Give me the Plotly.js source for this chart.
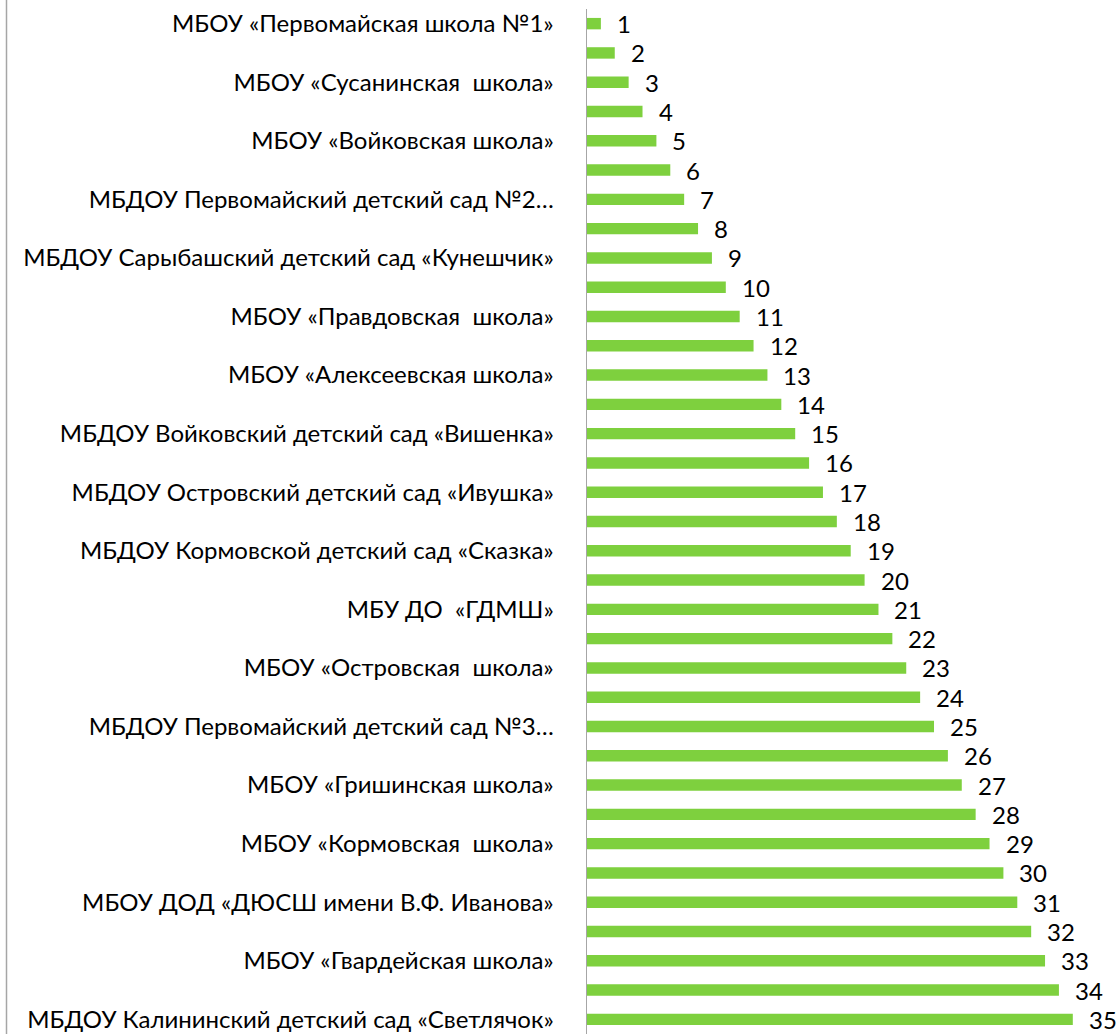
<!DOCTYPE html>
<html>
<head>
<meta charset="utf-8">
<script src="https://cdn.plot.ly/plotly-3.0.1.min.js"></script>
<style>html,body{margin:0;padding:0;background:#fff;}#chart{width:1120px;height:1034px;}</style>
</head>
<body>
<div id="chart"></div>
<script>
// Category labels (only every other label is shown in the reference; hidden ones left blank)
const categories = [
  "МБОУ «Первомайская школа №1»", "",
  "МБОУ «Сусанинская\u00A0 школа»", "",
  "МБОУ «Войковская школа»", "",
  "МБДОУ Первомайский детский сад №2…", "",
  "МБДОУ Сарыбашский детский сад «Кунешчик»", "",
  "МБОУ «Правдовская\u00A0 школа»", "",
  "МБОУ «Алексеевская школа»", "",
  "МБДОУ Войковский детский сад «Вишенка»", "",
  "МБДОУ Островский детский сад «Ивушка»", "",
  "МБДОУ Кормовской детский сад «Сказка»", "",
  "МБУ ДО\u00A0 «ГДМШ»", "",
  "МБОУ «Островская\u00A0 школа»", "",
  "МБДОУ Первомайский детский сад №3…", "",
  "МБОУ «Гришинская школа»", "",
  "МБОУ «Кормовская\u00A0 школа»", "",
  "МБОУ ДОД «ДЮСШ имени В.Ф. Иванова»", "",
  "МБОУ «Гвардейская школа»", "",
  "МБДОУ Калининский детский сад «Светлячок»"
];
const values = [1,2,3,4,5,6,7,8,9,10,11,12,13,14,15,16,17,18,19,20,21,22,23,24,25,26,27,28,29,30,31,32,33,34,35];

const positions = categories.map((c, i) => i + 1);
const tickvals = positions.filter((p, i) => categories[i] !== "");
const ticktext = categories.filter(c => c !== "");

const FONT = "Lato, 'Open Sans', sans-serif";
const ML = 587, W = 1120, MR = 0;

const trace = {
  type: 'bar',
  orientation: 'h',
  x: values,
  y: positions,
  marker: {color: '#7ED03E'},
  hoverinfo: 'none'
};

const annotations = values.map((v, i) => ({
  x: v, y: positions[i], xref: 'x', yref: 'y',
  text: String(v), showarrow: false,
  xanchor: 'left', yanchor: 'middle',
  xshift: 14, yshift: 0,
  font: {family: FONT, size: 24, color: '#000'}
}));

const layout = {
  width: W, height: 1034,
  margin: {l: ML, r: MR, t: 9, b: 0, pad: 0},
  paper_bgcolor: '#fff', plot_bgcolor: '#fff',
  showlegend: false,
  bargap: 0.61,
  font: {family: FONT, size: 24, color: '#000'},
  xaxis: {
    range: [0, 38.4], showgrid: false, zeroline: false,
    showticklabels: false, ticks: '', showline: false, fixedrange: true
  },
  yaxis: {
    range: [35.5, 0.5], tickmode: 'array', tickvals: tickvals, ticktext: ticktext,
    showgrid: false, zeroline: false, showline: true, linecolor: '#A6A6A6', linewidth: 1.5,
    ticks: '', ticklabelstandoff: 27,
    tickfont: {family: FONT, size: 24, color: '#000'}, fixedrange: true
  },
  annotations: annotations,
  shapes: [{
    type: 'line', xref: 'paper', yref: 'paper',
    x0: (6.5 - ML) / (W - ML - MR), x1: (6.5 - ML) / (W - ML - MR),
    y0: 0, y1: 1 + 9 / 1025,
    line: {color: '#A6A6A6', width: 1.5}
  }]
};

Plotly.newPlot('chart', [trace], layout, {displayModeBar: false, staticPlot: true});
</script>
</body>
</html>
